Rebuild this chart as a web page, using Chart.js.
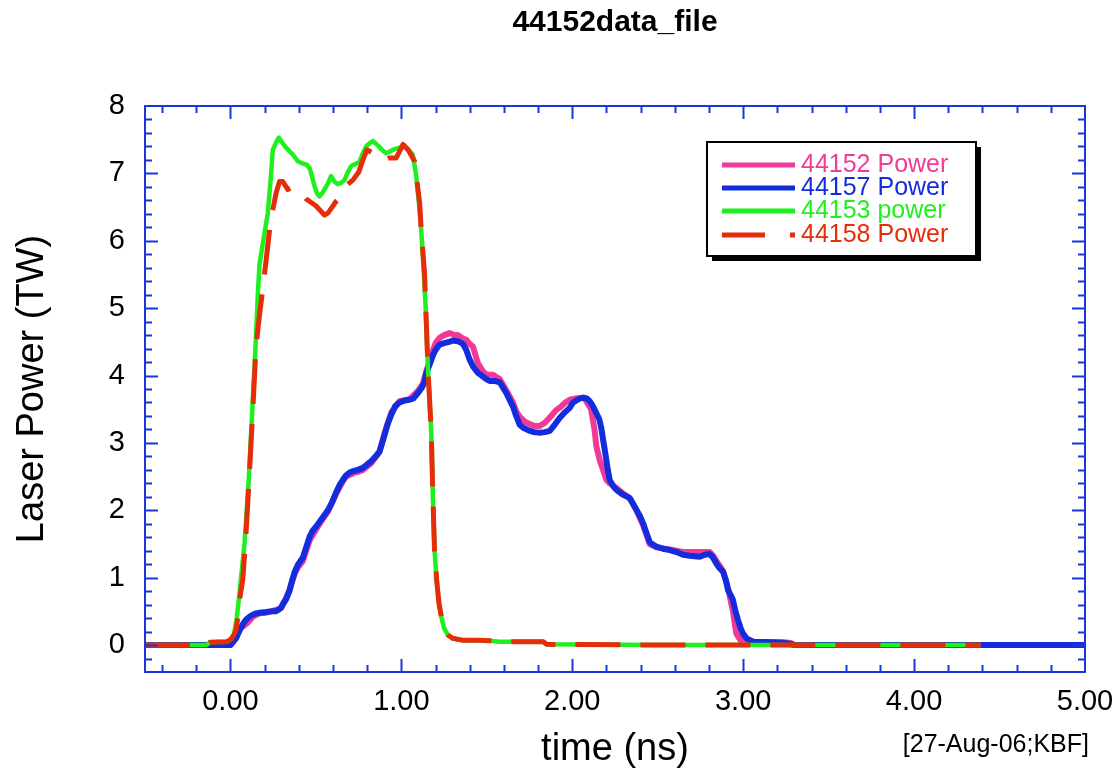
<!DOCTYPE html>
<html>
<head>
<meta charset="utf-8">
<script src="https://cdn.jsdelivr.net/npm/chart.js@4.4.1/dist/chart.umd.min.js"></script>
<style>
  html, body { margin: 0; padding: 0; background: #ffffff; }
  #c { display: block; }
</style>
</head>
<body>
<canvas id="c" width="1117" height="774"></canvas>
<script>
// ---------------- data ----------------
const chartTitle = "44152data_file";
const stampText = "[27-Aug-06;KBF]";
const xTitle = "time (ns)";
const yTitle = "Laser Power (TW)";
const xLabelValues = [0, 1, 2, 3, 4, 5];
const yLabelValues = [0, 1, 2, 3, 4, 5, 6, 7, 8];

const labels = ["44152 Power", "44157 Power", "44153 power", "44158 Power"];

// 44152 Power (pink)
const t44152 = [-0.5, 0.0, 0.033, 0.06, 0.1, 0.13, 0.17, 0.209, 0.267, 0.297, 0.326, 0.345, 0.375, 0.394, 0.424, 0.443, 0.463, 0.502, 0.53, 0.57, 0.619, 0.66, 0.677, 0.716, 0.745, 0.775, 0.824, 0.872, 0.902, 0.941, 0.989, 1.048, 1.097, 1.126, 1.146, 1.175, 1.2, 1.224, 1.25, 1.282, 1.31, 1.33, 1.36, 1.38, 1.399, 1.419, 1.448, 1.475, 1.5, 1.536, 1.56, 1.575, 1.614, 1.653, 1.672, 1.692, 1.72, 1.75, 1.78, 1.809, 1.84, 1.87, 1.907, 1.93, 1.96, 1.985, 2.02, 2.07, 2.11, 2.13, 2.141, 2.16, 2.2, 2.219, 2.248, 2.297, 2.336, 2.375, 2.414, 2.453, 2.492, 2.57, 2.648, 2.7, 2.746, 2.804, 2.823, 2.843, 2.882, 2.911, 2.94, 2.96, 2.985, 3.058, 3.234, 3.28, 3.3, 5.0];
const p44152 = [0, 0, 0.12, 0.25, 0.33, 0.42, 0.47, 0.48, 0.52, 0.55, 0.7, 0.82, 1.05, 1.15, 1.25, 1.4, 1.55, 1.72, 1.83, 1.98, 2.25, 2.44, 2.5, 2.55, 2.57, 2.6, 2.7, 2.87, 3.15, 3.45, 3.62, 3.65, 3.77, 3.88, 4.06, 4.3, 4.48, 4.56, 4.6, 4.63, 4.6, 4.6, 4.55, 4.53, 4.47, 4.43, 4.18, 4.07, 4.01, 4.01, 3.97, 3.95, 3.78, 3.6, 3.47, 3.39, 3.32, 3.28, 3.25, 3.25, 3.3, 3.38, 3.49, 3.53, 3.6, 3.64, 3.66, 3.67, 3.5, 3.2, 2.95, 2.75, 2.45, 2.4, 2.35, 2.25, 2.18, 2.0, 1.78, 1.5, 1.45, 1.42, 1.38, 1.38, 1.38, 1.38, 1.33, 1.25, 1.1, 0.85, 0.5, 0.17, 0.07, 0.05, 0.04, 0.03, 0, 0];

// 44157 Power (blue)
const t44157 = [-0.5, -0.02, 0.0, 0.033, 0.053, 0.075, 0.092, 0.111, 0.13, 0.15, 0.17, 0.209, 0.24, 0.267, 0.285, 0.297, 0.31, 0.326, 0.345, 0.36, 0.375, 0.394, 0.41, 0.424, 0.443, 0.463, 0.482, 0.502, 0.53, 0.55, 0.57, 0.595, 0.619, 0.64, 0.66, 0.677, 0.697, 0.716, 0.745, 0.775, 0.8, 0.824, 0.85, 0.872, 0.89, 0.902, 0.92, 0.941, 0.965, 0.989, 1.02, 1.048, 1.07, 1.097, 1.12, 1.135, 1.146, 1.165, 1.185, 1.2, 1.224, 1.25, 1.28, 1.302, 1.33, 1.36, 1.38, 1.399, 1.42, 1.448, 1.47, 1.495, 1.516, 1.545, 1.575, 1.595, 1.614, 1.633, 1.653, 1.672, 1.692, 1.716, 1.741, 1.775, 1.809, 1.84, 1.868, 1.9, 1.926, 1.955, 1.985, 2.005, 2.024, 2.045, 2.063, 2.085, 2.102, 2.12, 2.141, 2.158, 2.17, 2.18, 2.19, 2.205, 2.219, 2.235, 2.248, 2.27, 2.297, 2.316, 2.336, 2.355, 2.375, 2.395, 2.414, 2.433, 2.453, 2.472, 2.492, 2.53, 2.57, 2.61, 2.648, 2.7, 2.746, 2.775, 2.804, 2.823, 2.843, 2.862, 2.882, 2.9, 2.911, 2.925, 2.94, 2.955, 2.97, 2.985, 2.999, 3.02, 3.058, 3.15, 3.234, 3.3, 5.0];
const p44157 = [0, 0, 0, 0.1, 0.22, 0.32, 0.38, 0.42, 0.45, 0.47, 0.48, 0.49, 0.5, 0.5, 0.53, 0.56, 0.62, 0.68, 0.8, 0.95, 1.08, 1.19, 1.25, 1.3, 1.45, 1.61, 1.7, 1.76, 1.86, 1.93, 2.0, 2.12, 2.27, 2.38, 2.46, 2.52, 2.56, 2.58, 2.6, 2.63, 2.68, 2.73, 2.8, 2.87, 3.02, 3.12, 3.28, 3.42, 3.55, 3.6, 3.63, 3.64, 3.66, 3.74, 3.82, 3.9, 4.04, 4.16, 4.3, 4.38, 4.46, 4.48, 4.5, 4.52, 4.51, 4.47, 4.38, 4.24, 4.13, 4.04, 4.0, 3.95, 3.92, 3.92, 3.9, 3.82, 3.74, 3.64, 3.54, 3.4, 3.27, 3.22, 3.19, 3.16, 3.15, 3.16, 3.18, 3.28, 3.37, 3.45, 3.52, 3.6, 3.63, 3.66, 3.67, 3.66, 3.62, 3.55, 3.44, 3.35, 3.22, 3.05, 2.9, 2.65, 2.45, 2.38, 2.33, 2.28, 2.23, 2.21, 2.18, 2.1, 2.01, 1.92, 1.81, 1.67, 1.53, 1.49, 1.46, 1.43, 1.41, 1.38, 1.34, 1.32, 1.31, 1.34, 1.35, 1.3, 1.21, 1.14, 1.09, 0.95, 0.82, 0.75, 0.67, 0.5, 0.37, 0.25, 0.17, 0.1, 0.05, 0.04, 0.035, 0, 0];

// 44153 power (green)
const t44153 = [-0.5, -0.14, -0.12, -0.02, 0.0, 0.02, 0.037, 0.05, 0.062, 0.082, 0.107, 0.127, 0.146, 0.16, 0.17, 0.195, 0.218, 0.235, 0.248, 0.265, 0.283, 0.305, 0.326, 0.345, 0.365, 0.394, 0.42, 0.445, 0.463, 0.478, 0.492, 0.507, 0.521, 0.535, 0.55, 0.57, 0.589, 0.608, 0.628, 0.648, 0.667, 0.687, 0.707, 0.73, 0.755, 0.775, 0.794, 0.815, 0.833, 0.852, 0.872, 0.891, 0.911, 0.935, 0.96, 0.985, 1.009, 1.04, 1.067, 1.087, 1.105, 1.116, 1.13, 1.142, 1.155, 1.175, 1.185, 1.194, 1.208, 1.22, 1.234, 1.25, 1.272, 1.3, 1.36, 1.45, 1.516, 1.575, 1.7, 1.83, 1.85, 2.5, 3.5, 4.39];
const p44153 = [0, 0, 0.04, 0.05, 0.08, 0.15, 0.4, 0.7, 1.0, 1.5, 2.45, 3.45, 4.4, 5.2, 5.65, 6.05, 6.4, 6.9, 7.35, 7.45, 7.53, 7.45, 7.38, 7.33, 7.28, 7.18, 7.15, 7.13, 7.08, 6.95, 6.81, 6.7, 6.66, 6.7, 6.76, 6.85, 6.96, 6.88, 6.84, 6.86, 6.9, 7.02, 7.11, 7.14, 7.17, 7.3, 7.4, 7.45, 7.48, 7.44, 7.39, 7.34, 7.3, 7.33, 7.36, 7.38, 7.4, 7.35, 7.28, 6.96, 6.5, 6.17, 5.6, 5.0, 4.14, 3.15, 2.15, 1.41, 0.92, 0.62, 0.42, 0.25, 0.15, 0.1, 0.07, 0.07, 0.065, 0.05, 0.05, 0.05, 0.01, 0, 0, 0];

// 44158 Power (red, dashed)
const t44158 = [-0.5, -0.14, -0.12, -0.02, 0.0, 0.02, 0.033, 0.045, 0.053, 0.072, 0.09, 0.11, 0.13, 0.15, 0.17, 0.19, 0.209, 0.238, 0.255, 0.267, 0.287, 0.306, 0.336, 0.36, 0.385, 0.414, 0.443, 0.5, 0.55, 0.57, 0.595, 0.619, 0.658, 0.687, 0.716, 0.751, 0.775, 0.798, 0.833, 0.862, 0.885, 0.902, 0.93, 0.97, 0.99, 1.01, 1.04, 1.077, 1.107, 1.116, 1.136, 1.155, 1.175, 1.185, 1.194, 1.208, 1.22, 1.234, 1.25, 1.272, 1.3, 1.36, 1.45, 1.516, 1.575, 1.7, 1.83, 1.85, 2.5, 3.5, 4.39];
const p44158 = [0, 0, 0.04, 0.05, 0.08, 0.15, 0.22, 0.45, 0.67, 0.97, 1.6, 2.5, 3.45, 4.45, 4.9, 5.3, 5.72, 6.36, 6.55, 6.71, 6.88, 6.88, 6.76, 6.79, 6.78, 6.71, 6.62, 6.52, 6.38, 6.41, 6.5, 6.59, 6.69, 6.84, 6.9, 7.02, 7.2, 7.35, 7.3, 7.3, 7.25, 7.2, 7.23, 7.23, 7.33, 7.43, 7.35, 7.18, 6.56, 6.17, 5.5, 4.14, 3.15, 2.15, 1.41, 0.92, 0.62, 0.42, 0.25, 0.15, 0.1, 0.07, 0.07, 0.065, 0.05, 0.05, 0.05, 0.01, 0, 0, 0];

// ---------------- styles ----------------
const colPink = "rgb(240,58,150)";
const colBlue = "rgb(18,44,222)";
const colGreen = "rgb(30,240,30)";
const colRed = "rgb(230,45,10)";
const axisColor = "rgb(25,55,220)";
const FONT = "'Liberation Sans', Arial, Helvetica, sans-serif";

function pts(ts, ps) { return ts.map((t, i) => ({ x: t, y: ps[i] })); }

Chart.defaults.font.family = FONT;
Chart.defaults.color = "#000";

const framePlugin = {
  id: "frameTicks",
  afterDatasetsDraw(chart) {
    const { ctx, chartArea: a, scales } = chart;
    const x = scales.x, y = scales.y;
    ctx.save();
    ctx.strokeStyle = axisColor;
    ctx.lineWidth = 2;
    ctx.beginPath();
    // x ticks every 0.2 ns (major at whole ns)
    for (let i = -2; i <= 24; i++) {
      const v = i / 5;
      const px = Math.round(x.getPixelForValue(v)) + 0.5;
      const len = (i % 5 === 0) ? 13 : 7;
      ctx.moveTo(px, a.bottom); ctx.lineTo(px, a.bottom - len);
      ctx.moveTo(px, a.top); ctx.lineTo(px, a.top + len);
    }
    // y ticks every 0.2 TW (major at whole TW)
    for (let i = -1; i <= 39; i++) {
      const v = i / 5;
      const py = Math.round(y.getPixelForValue(v)) + 0.5;
      const len = (i % 5 === 0) ? 13 : 7;
      ctx.moveTo(a.left, py); ctx.lineTo(a.left + len, py);
      ctx.moveTo(a.right, py); ctx.lineTo(a.right - len, py);
    }
    ctx.stroke();
    ctx.strokeRect(a.left, a.top, a.right - a.left, a.bottom - a.top);
    ctx.restore();
  },
  afterDraw(chart) {
    const { ctx, chartArea: a } = chart;
    ctx.save();
    // title
    ctx.fillStyle = "#000";
    ctx.font = "bold 30px " + FONT;
    ctx.textAlign = "center";
    ctx.textBaseline = "middle";
    ctx.fillText(chartTitle, (a.left + a.right) / 2, 23);
    // stamp
    ctx.font = "25px " + FONT;
    ctx.textAlign = "right";
    ctx.fillText(stampText, 1089, 745);
    // legend box with shadow
    const bx = 707, by = 142, bw = 269, bh = 114;
    ctx.fillStyle = "#000";
    ctx.fillRect(bx + 5, by + 5, bw, bh);
    ctx.fillStyle = "#fff";
    ctx.fillRect(bx, by, bw, bh);
    ctx.strokeStyle = "#000";
    ctx.lineWidth = 2;
    ctx.strokeRect(bx, by, bw, bh);
    const rows = [165, 188, 211, 235];
    const ds = chart.data.datasets;
    ctx.font = "25px " + FONT;
    ctx.textAlign = "left";
    ctx.textBaseline = "middle";
    ds.forEach((d, i) => {
      const ry = rows[i];
      ctx.save();
      ctx.strokeStyle = d.borderColor;
      ctx.lineWidth = 5;
      ctx.setLineDash(d.borderDash && d.borderDash.length ? [43, 25] : []);
      ctx.beginPath();
      ctx.moveTo(722, ry); ctx.lineTo(795, ry);
      ctx.stroke();
      ctx.restore();
      ctx.fillStyle = d.borderColor;
      ctx.fillText(d.label, 801, ry);
    });
    ctx.restore();
  }
};

new Chart(document.getElementById("c"), {
  type: "line",
  data: {
    datasets: [
      { label: labels[0], data: pts(t44152, p44152), borderColor: colPink, borderWidth: 6, order: 4 },
      { label: labels[1], data: pts(t44157, p44157), borderColor: colBlue, borderWidth: 6, order: 3 },
      { label: labels[2], data: pts(t44153, p44153), borderColor: colGreen, borderWidth: 4.5, order: 2 },
      { label: labels[3], data: pts(t44158, p44158), borderColor: colRed, borderWidth: 5, borderDash: [45, 20], order: 1 }
    ]
  },
  options: {
    responsive: false,
    animation: false,
    devicePixelRatio: 1,
    parsing: false,
    elements: { point: { radius: 0 }, line: { tension: 0, fill: false, borderCapStyle: "butt", borderJoinStyle: "round" } },
    layout: { padding: { top: 106, right: 32, bottom: 0, left: 0 } },
    plugins: { legend: { display: false }, tooltip: { enabled: false }, title: { display: false } },
    scales: {
      x: {
        type: "linear", min: -0.5, max: 5,
        grid: { display: false, drawTicks: false },
        border: { display: false },
        afterBuildTicks: (s) => { s.ticks = xLabelValues.map(v => ({ value: v })); },
        afterFit: (s) => { s.height = 102; s.paddingLeft = 0; s.paddingRight = 0; },
        ticks: { autoSkip: false, maxRotation: 0, padding: 13, color: "#000", font: { size: 29 }, callback: (v) => Number(v).toFixed(2) },
        title: { display: true, text: xTitle, color: "#000", font: { size: 38 }, padding: { top: 0, bottom: 2 } }
      },
      y: {
        type: "linear", min: -0.4, max: 8,
        grid: { display: false, drawTicks: false },
        border: { display: false },
        afterBuildTicks: (s) => { s.ticks = yLabelValues.map(v => ({ value: v })); },
        afterFit: (s) => { s.width = 145; s.paddingTop = 0; s.paddingBottom = 0; },
        ticks: { autoSkip: false, padding: 20, color: "#000", font: { size: 29 }, callback: (v) => String(v) },
        title: { display: true, text: yTitle, color: "#000", font: { size: 38 }, padding: { top: 10, bottom: 0 } }
      }
    }
  },
  plugins: [framePlugin]
});
</script>
</body>
</html>
